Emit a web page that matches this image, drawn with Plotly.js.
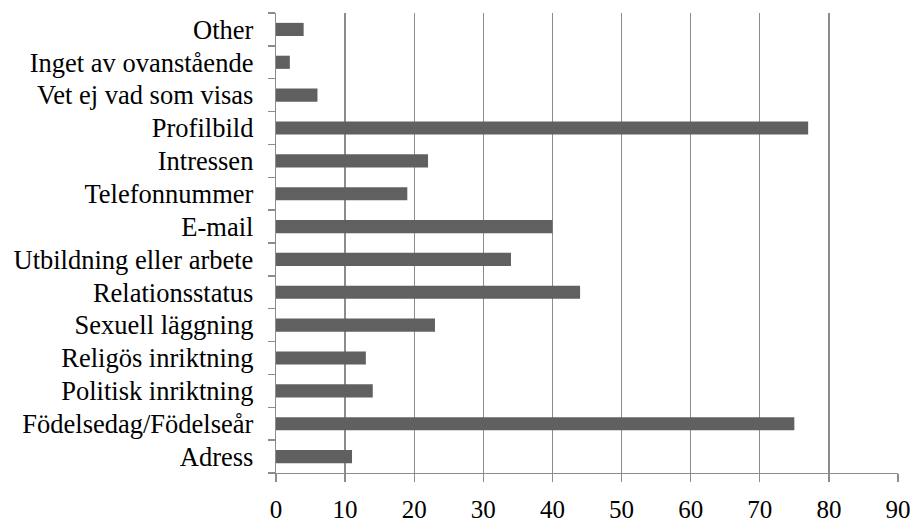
<!DOCTYPE html>
<html>
<head>
<meta charset="utf-8">
<script src="https://cdn.plot.ly/plotly-3.0.1.min.js"></script>
<style>html,body{margin:0;padding:0;background:#fff}#chart{width:915px;height:528px}</style>
</head>
<body>
<div id="chart"></div>
<script>
const categories = ["Adress","Födelsedag/Födelseår","Politisk inriktning","Religös inriktning","Sexuell läggning","Relationsstatus","Utbildning eller arbete","E-mail","Telefonnummer","Intressen","Profilbild","Vet ej vad som visas","Inget av ovanstående","Other"];
const values = [11,75,14,13,23,44,34,40,19,22,77,6,2,4];
const xTicks = [0,10,20,30,40,50,60,70,80,90];

Plotly.newPlot('chart', [{
  type: 'bar',
  orientation: 'h',
  y: categories,
  x: values,
  marker: {color: '#606060', line: {width: 0}},
  hoverinfo: 'none'
}], {
  width: 915, height: 528,
  margin: {l: 276, r: 17, t: 13, b: 55, pad: 0},
  paper_bgcolor: '#ffffff', plot_bgcolor: '#ffffff',
  bargap: 0.6,
  showlegend: false,
  font: {family: 'Liberation Serif, Times New Roman, serif', size: 21, color: '#000000'},
  xaxis: {
    range: [0, 90], tickvals: xTicks, ticktext: xTicks.map(String),
    showgrid: true, gridcolor: '#8c8c8c', gridwidth: 1.3,
    showline: true, linecolor: '#8c8c8c', linewidth: 1.3,
    ticks: 'outside', ticklen: 8, tickwidth: 1.3, tickcolor: '#8c8c8c',
    tickfont: {size: 25},
    zeroline: false, ticklabelstandoff: 6, fixedrange: true
  },
  yaxis: {
    type: 'category', categoryorder: 'array', categoryarray: categories,
    range: [-0.5, 13.5],
    tickson: 'boundaries', ticks: 'outside', ticklen: 7, tickwidth: 1.3, tickcolor: '#8c8c8c',
    tickfont: {size: 26.5},
    showline: true, linecolor: '#8c8c8c', linewidth: 1.3,
    showgrid: false, zeroline: false, ticklabelstandoff: 16, fixedrange: true
  }
}, {staticPlot: true, displayModeBar: false});
</script>
</body>
</html>
